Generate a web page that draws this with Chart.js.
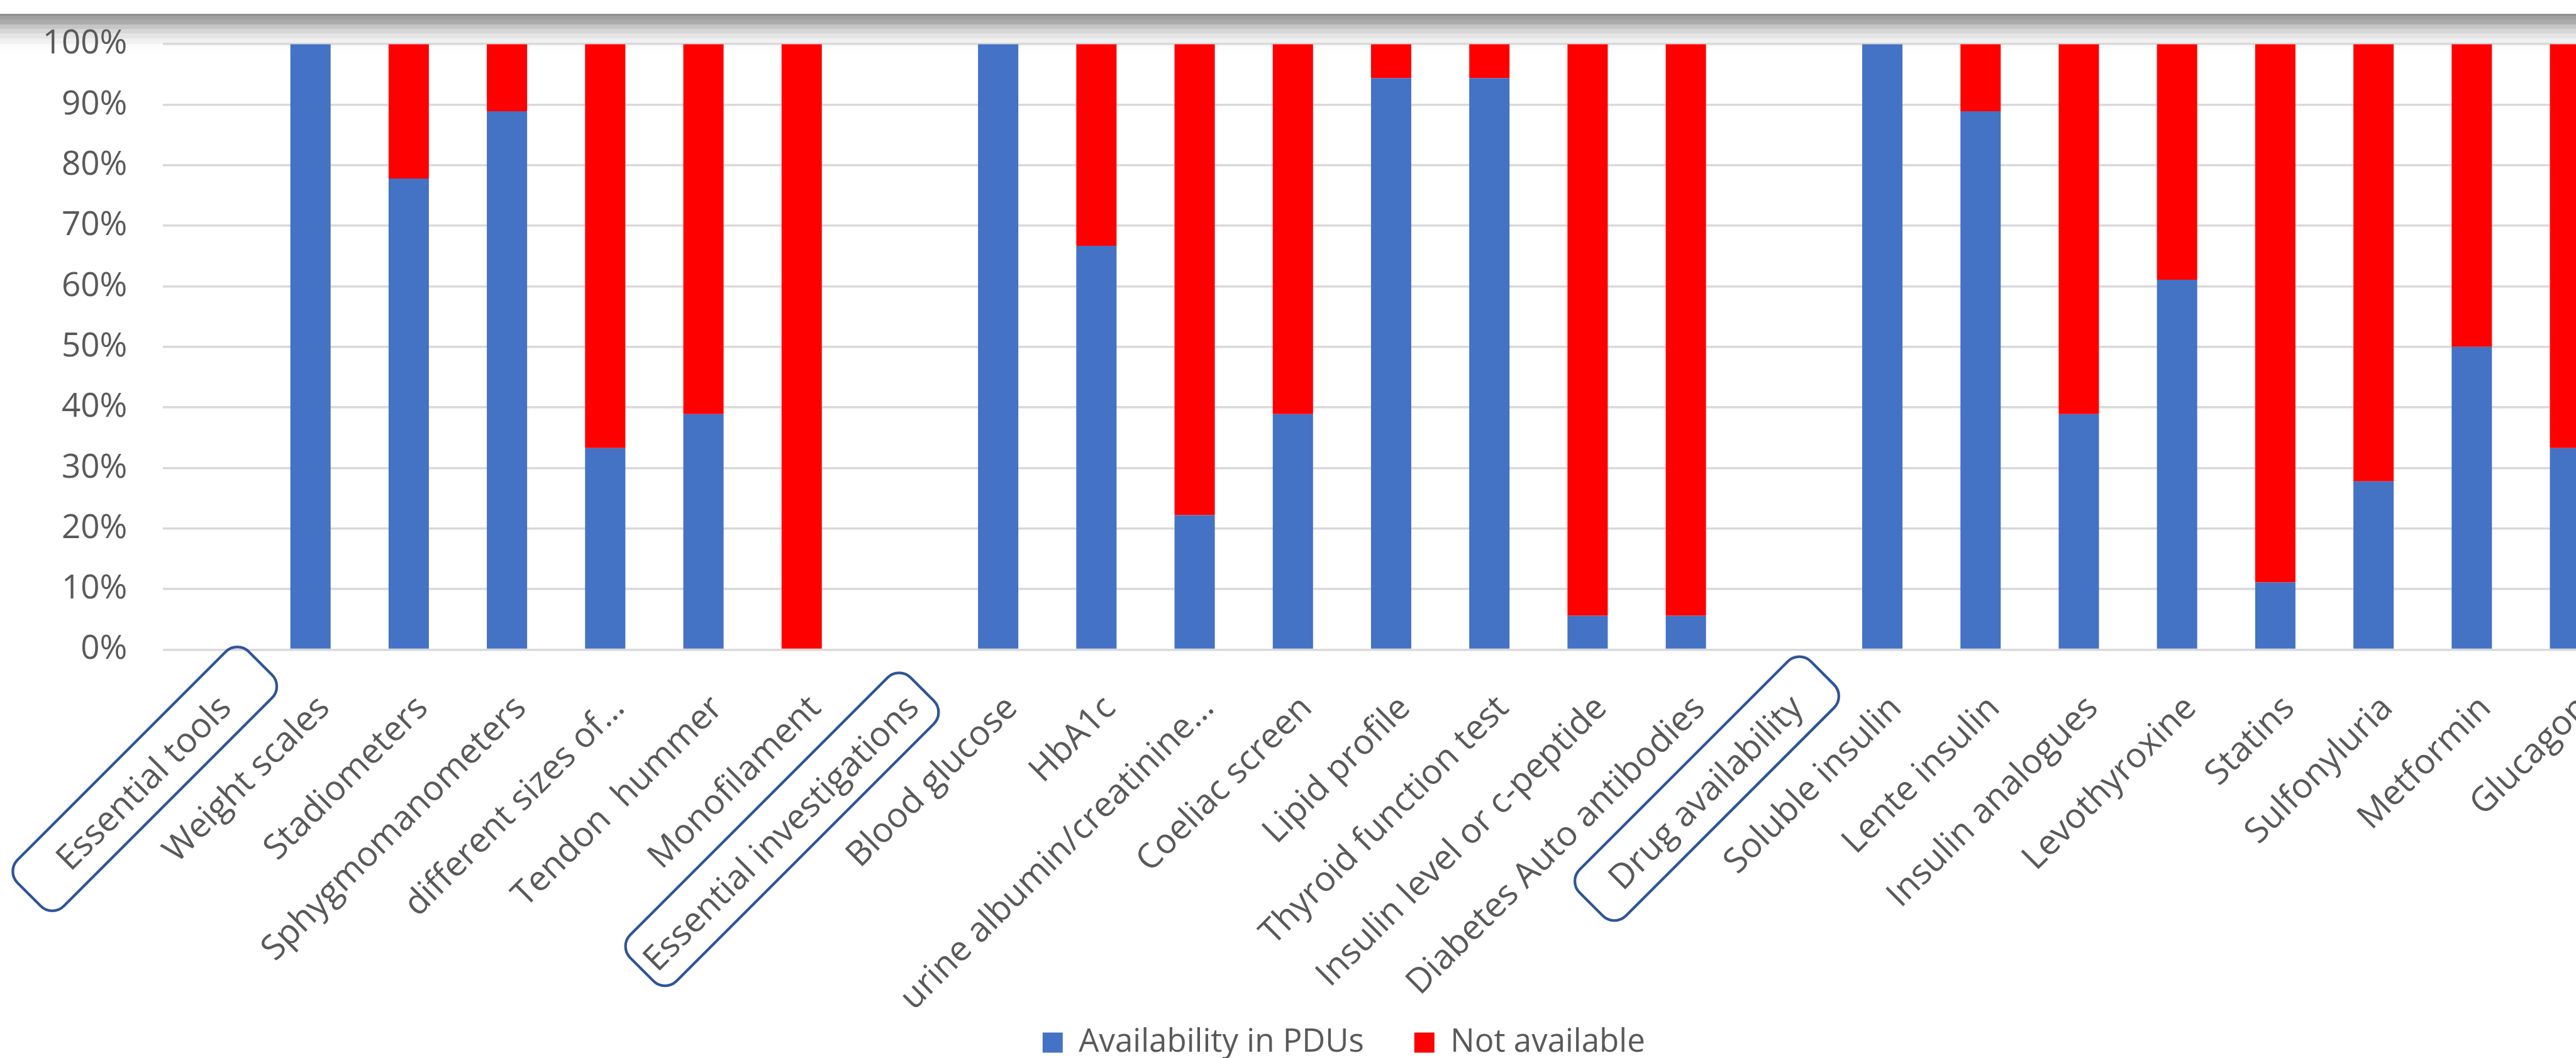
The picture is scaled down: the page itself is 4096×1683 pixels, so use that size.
<!DOCTYPE html>
<html>
<head>
<meta charset="utf-8">
<script src="https://cdn.jsdelivr.net/npm/chart.js@4.4.1/dist/chart.umd.min.js"></script>
<style>
  html, body { margin: 0; padding: 0; background: #fff; overflow: hidden; }
  #wrap { position: relative; width: 4096px; height: 1683px; overflow: hidden; background: #fff; }
  #band {
    position: absolute; left: 0; top: 22px; width: 100%; height: 62px;
    background: linear-gradient(to bottom,
      #8f8f8f 0px, #8f8f8f 3px,
      #a0a0a0 3px, #a0a0a0 9px,
      #ababab 9px, #ababab 17px,
      #c6c6c6 17px, #c6c6c6 24px,
      #d6d6d6 24px, #d6d6d6 31px,
      #e5e5e5 31px, #e5e5e5 39px,
      #f0f0f0 39px, #f0f0f0 47px,
      #fafafa 48px, #ffffff 62px);
  }
  #chart { position: absolute; left: 0; top: 0; }
</style>
</head>
<body>
<div id="wrap">
  <div id="band"></div>
  <canvas id="chart" width="4200" height="1694"></canvas>
</div>
<script>
// categories on the x axis (group headers have no bar)
const categories = [
  'Essential tools', 'Weight scales', 'Stadiometers', 'Sphygmomanometers',
  'different sizes of\u2026', 'Tendon  hummer', 'Monofilament',
  'Essential investigations', 'Blood glucose', 'HbA1c', 'urine albumin/creatinine\u2026',
  'Coeliac screen', 'Lipid profile', 'Thyroid function test', 'Insulin level or c-peptide',
  'Diabetes Auto antibodies',
  'Drug availability', 'Soluble insulin', 'Lente insulin', 'Insulin analogues',
  'Levothyroxine', 'Statins', 'Sulfonyluria', 'Metformin', 'Glucagon'
];
const groupHeaders = ['Essential tools', 'Essential investigations', 'Drug availability'];

// % of PDUs
const available = [
  null, 100, 77.8, 88.9, 33.3, 38.9, 0,
  null, 100, 66.7, 22.2, 38.9, 94.4, 94.4, 5.6, 5.6,
  null, 100, 88.9, 38.9, 61.1, 11.1, 27.8, 50, 33.3
];
const notAvailable = [
  null, 0, 22.2, 11.1, 66.7, 61.1, 100,
  null, 0, 33.3, 77.8, 61.1, 5.6, 5.6, 94.4, 94.4,
  null, 0, 11.1, 61.1, 38.9, 88.9, 72.2, 50, 66.7
];
const seriesNames = ['Availability in PDUs', 'Not available'];
const seriesColors = ['#4472C4', '#FF0000'];

const FONT = '"Open Sans", "Noto Sans", sans-serif';
const TEXT = '#595959';

// let tick labels run outside their axis box (long rotated names, "100%")
const noLabelClip = {
  id: 'noLabelClip',
  beforeDraw(chart) {
    Object.values(chart.scales).forEach(function(s) {
      s._computeLabelArea = function() { return undefined; };
    });
  }
};

// rounded boxes drawn around the group header labels
const groupBoxes = {
  id: 'groupBoxes',
  afterDraw(chart) {
    const x = chart.scales.x;
    const ctx = chart.ctx;
    const t = x.options.ticks;
    const font = Chart.helpers.toFont(t.font);
    const a = Math.PI / 4;
    ctx.save();
    ctx.font = font.string;
    groupHeaders.forEach(function(name) {
      const i = categories.indexOf(name);
      const w = ctx.measureText(name).width;
      const ex = x.getPixelForTick(i) + t.labelOffset;
      const ey = x.top + t.padding + font.lineHeight / 2 * Math.cos(a);
      const cx = ex - Math.cos(a) * w / 2;
      const cy = ey + Math.sin(a) * w / 2;
      const len = Math.max(w + 38, 520);
      ctx.setTransform(1, 0, 0, 1, cx, cy);
      ctx.rotate(-a);
      ctx.beginPath();
      ctx.roundRect(-len / 2, -52, len, 104, 26);
      ctx.lineWidth = 4.3;
      ctx.strokeStyle = '#2F5597';
      ctx.stroke();
    });
    ctx.restore();
  }
};

new Chart(document.getElementById('chart'), {
  type: 'bar',
  data: {
    labels: categories,
    datasets: [
      {label: seriesNames[0], data: available, backgroundColor: seriesColors[0]},
      {label: seriesNames[1], data: notAvailable, backgroundColor: seriesColors[1]}
    ]
  },
  options: {
    responsive: false,
    devicePixelRatio: 1,
    animation: false,
    layout: {padding: {left: 109, right: 35.4, top: 70.2, bottom: 0}},
    datasets: {bar: {categoryPercentage: 0.41, barPercentage: 1}},
    scales: {
      x: {
        stacked: true,
        grid: {display: false},
        border: {display: false},
        ticks: {
          autoSkip: false,
          minRotation: 45,
          maxRotation: 45,
          padding: 53,
          labelOffset: 22,
          color: TEXT,
          font: {family: FONT, size: 55}
        },
        afterFit(scale) { scale.height = 519.6; }
      },
      y: {
        stacked: true,
        min: 0,
        max: 100,
        grid: {color: '#D9D9D9', lineWidth: 3.5, drawTicks: false},
        border: {display: false},
        ticks: {
          stepSize: 10,
          padding: 57,
          color: TEXT,
          font: {family: FONT, size: 53, lineHeight: 0.4},
          callback: function(v) { return v + '%'; }
        },
        afterFit(scale) { scale.width = 150.4; }
      }
    },
    plugins: {
      legend: {
        position: 'bottom',
        labels: {
          boxWidth: 32,
          boxHeight: 32,
          padding: 80,
          color: TEXT,
          font: {family: FONT, size: 51}
        }
      },
      tooltip: {enabled: false}
    }
  },
  plugins: [noLabelClip, groupBoxes]
});
</script>
</body>
</html>
